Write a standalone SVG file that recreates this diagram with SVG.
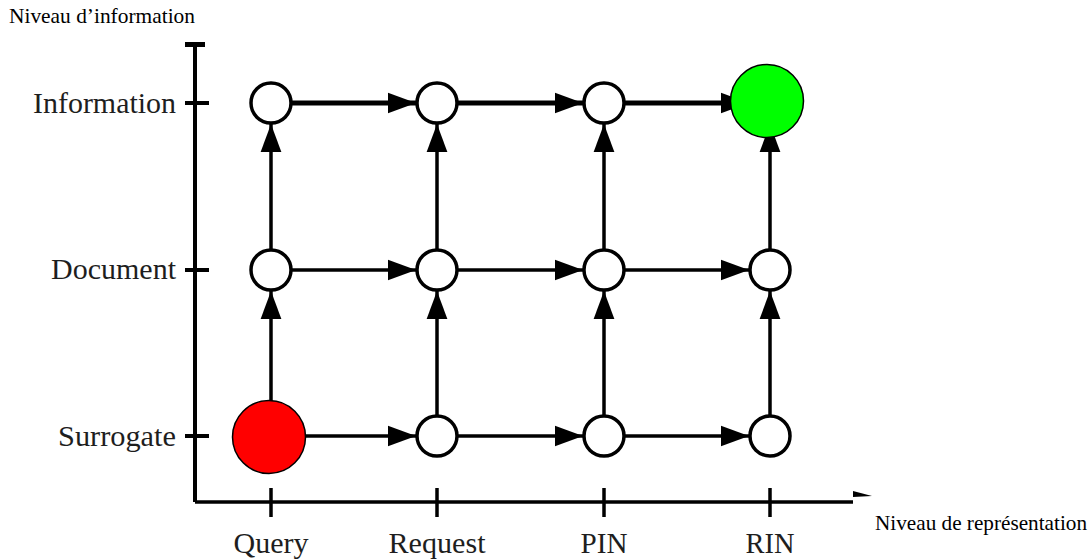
<svg xmlns="http://www.w3.org/2000/svg" width="1090" height="560" viewBox="0 0 1090 560">
  <style>
    .axis { stroke: #000; fill: none; }
    .lbl { font-family: "Liberation Serif", "Times New Roman", serif; fill: #1e1e1e; font-size: 29px; }
    .cap { font-family: "Liberation Serif", "Times New Roman", serif; fill: #000; font-size: 21px; }
    .edge { stroke: #000; stroke-width: 3.5; fill: none; marker-end: url(#ah); }
    .edge.thick { stroke-width: 5; }
    .node { fill: #fff; stroke: #000; stroke-width: 3.5; }
    .big { stroke: #000; stroke-width: 1.5; }
  </style>
  <defs>
    <marker id="ah" markerUnits="userSpaceOnUse" markerWidth="28" markerHeight="22" viewBox="0 0 27 20" refX="27" refY="10" orient="auto">
      <path d="M0,0 L27,10 L0,20 Z" fill="#000"/>
    </marker>
  </defs>
  <rect width="1090" height="560" fill="#fff"/>

  <g id="axes">
    <line class="axis" x1="195" y1="44" x2="195" y2="502" stroke-width="4"/>
    <line class="axis" x1="185" y1="44.5" x2="205" y2="44.5" stroke-width="5"/>
    <line class="axis" x1="185" y1="103" x2="209" y2="103" stroke-width="4"/>
    <line class="axis" x1="185" y1="270" x2="209" y2="270" stroke-width="4"/>
    <line class="axis" x1="185" y1="436" x2="209" y2="436" stroke-width="4"/>
    <line class="axis" x1="195" y1="502" x2="853" y2="502" stroke-width="3.5"/>
    <line class="axis" x1="271" y1="488" x2="271" y2="517" stroke-width="3.5"/>
    <line class="axis" x1="437" y1="488" x2="437" y2="517" stroke-width="3.5"/>
    <line class="axis" x1="604" y1="488" x2="604" y2="517" stroke-width="3.5"/>
    <line class="axis" x1="770" y1="488" x2="770" y2="517" stroke-width="3.5"/>
    <polygon points="853,491 872,496 853,497" fill="#000"/>
  </g>

  <g id="labels">
    <text class="cap" x="9" y="23" textLength="186" lengthAdjust="spacingAndGlyphs">Niveau d’information</text>
    <text class="cap" x="875" y="530" textLength="212" lengthAdjust="spacingAndGlyphs">Niveau de représentation</text>
    <text class="lbl" x="176" y="113" text-anchor="end" textLength="143" lengthAdjust="spacingAndGlyphs">Information</text>
    <text class="lbl" x="176" y="279" text-anchor="end" textLength="125" lengthAdjust="spacingAndGlyphs">Document</text>
    <text class="lbl" x="176" y="446" text-anchor="end" textLength="118" lengthAdjust="spacingAndGlyphs">Surrogate</text>
    <text class="lbl" x="271" y="553" text-anchor="middle" textLength="75" lengthAdjust="spacingAndGlyphs">Query</text>
    <text class="lbl" x="437" y="553" text-anchor="middle" textLength="97" lengthAdjust="spacingAndGlyphs">Request</text>
    <text class="lbl" x="604" y="553" text-anchor="middle" textLength="47" lengthAdjust="spacingAndGlyphs">PIN</text>
    <text class="lbl" x="770" y="553" text-anchor="middle" textLength="49" lengthAdjust="spacingAndGlyphs">RIN</text>
  </g>

  <g id="connectors">
    <!-- row Information -->
    <line class="edge thick" x1="291" y1="103" x2="416" y2="103"/>
    <line class="edge thick" x1="457" y1="103" x2="583" y2="103"/>
    <line class="edge thick" x1="624" y1="103" x2="749" y2="103"/>
    <!-- row Document -->
    <line class="edge" x1="291" y1="270" x2="416" y2="270"/>
    <line class="edge" x1="457" y1="270" x2="583" y2="270"/>
    <line class="edge" x1="624" y1="270" x2="749" y2="270"/>
    <!-- row Surrogate -->
    <line class="edge" x1="305" y1="436" x2="416" y2="436"/>
    <line class="edge" x1="457" y1="436" x2="583" y2="436"/>
    <line class="edge" x1="624" y1="436" x2="749" y2="436"/>
    <!-- verticals Surrogate -> Document -->
    <line class="edge" x1="271" y1="401" x2="271" y2="291"/>
    <line class="edge" x1="437" y1="416" x2="437" y2="291"/>
    <line class="edge" x1="604" y1="416" x2="604" y2="291"/>
    <line class="edge" x1="770" y1="416" x2="770" y2="291"/>
    <!-- verticals Document -> Information -->
    <line class="edge" x1="271" y1="250" x2="271" y2="124"/>
    <line class="edge" x1="437" y1="250" x2="437" y2="124"/>
    <line class="edge" x1="604" y1="250" x2="604" y2="124"/>
    <line class="edge" x1="770" y1="250" x2="770" y2="124"/>
  </g>

  <g id="n-query-information"><circle class="node" cx="271" cy="103" r="20"/></g>
  <g id="n-request-information"><circle class="node" cx="437" cy="103" r="20"/></g>
  <g id="n-pin-information"><circle class="node" cx="604" cy="103" r="20"/></g>
  <g id="n-rin-information"><circle class="big" cx="767" cy="101" r="36.5" fill="#00ff00"/></g>
  <g id="n-query-document"><circle class="node" cx="271" cy="270" r="20"/></g>
  <g id="n-request-document"><circle class="node" cx="437" cy="270" r="20"/></g>
  <g id="n-pin-document"><circle class="node" cx="604" cy="270" r="20"/></g>
  <g id="n-rin-document"><circle class="node" cx="770" cy="270" r="20"/></g>
  <g id="n-query-surrogate"><circle class="big" cx="269" cy="437" r="36.5" fill="#ff0000"/></g>
  <g id="n-request-surrogate"><circle class="node" cx="437" cy="436" r="20"/></g>
  <g id="n-pin-surrogate"><circle class="node" cx="604" cy="436" r="20"/></g>
  <g id="n-rin-surrogate"><circle class="node" cx="770" cy="436" r="20"/></g>
</svg>
